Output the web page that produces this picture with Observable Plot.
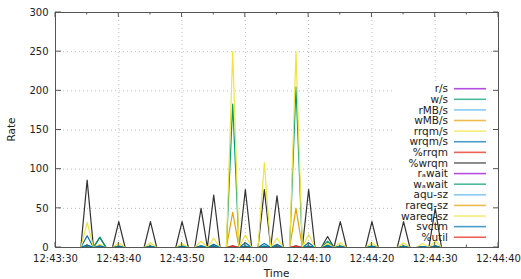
<!DOCTYPE html>
<html>
<head>
<meta charset="utf-8">
<script src="https://cdn.jsdelivr.net/npm/d3@7"></script>
<script src="https://cdn.jsdelivr.net/npm/@observablehq/plot@0.6"></script>
<style>
  html, body { margin: 0; padding: 0; background: #fff; }
  svg { display: block; }
</style>
</head>
<body>
<div id="chart"></div>
<script>
// ---- data (seconds after 12:43:30) ----
const seconds = [4,5,6,7,8,9,10,11,12,13,14,15,16,17,18,19,20,21,22,23,24,25,26,27,28,29,30,31,32,33,34,35,36,37,38,39,40,41,42,43,44,45,46,47,48,49,50,51,52,53,54,55,56,57,58,59,60,61];

const xTickSeconds = [0, 10, 20, 30, 40, 50, 60, 70];
const xTickLabels = ["12:43:30", "12:43:40", "12:43:50", "12:44:00", "12:44:10", "12:44:20", "12:44:30", "12:44:40"];
const xMinorSeconds = [5, 15, 25, 35, 45, 55, 65];
const xGridSeconds = [10, 20, 30, 40, 50, 60];
const yTicks = [0, 50, 100, 150, 200, 250, 300];
const yGrid = [50, 100, 150, 200, 250];

const seriesNames = ["r/s", "w/s", "rMB/s", "wMB/s", "rrqm/s", "wrqm/s", "%rrqm", "%wrqm",
  "rₐwait", "wₐwait", "aqu-sz", "rareq-sz", "wareq-sz", "svctm", "%util"];
const seriesColors = ["#9400d3", "#009e73", "#56b4e9", "#e69f00", "#f0e442", "#0072b2", "#e51e10", "#333333",
  "#9400d3", "#009e73", "#56b4e9", "#e69f00", "#f0e442", "#0072b2", "#e51e10"];

// non-zero readings [second, value]; every other second reads 0
const rS = [];
const wS = [[5,3],[7,2],[10,2],[15,2],[20,2],[23,2],[25,2],[28,183],[30,2],[33,2],[35,2],[38,205],[40,2],[43,2],[45,2],[50,2],[55,2],[58,1],[60,2]];
const rMBs = [];
const wMBs = [[28,45],[38,50]];
const rrqmS = [];
const wrqmS = [[5,15],[10,1],[15,1],[20,1],[23,2],[25,4],[30,6],[33,5],[35,4],[40,6],[43,3],[45,1],[50,1],[55,1],[58,1],[60,2]];
const pctRrqm = [];
const pctWrqm = [[5,86],[7,13],[10,33],[15,33],[20,33],[23,50],[25,67],[30,74],[33,74],[35,66],[40,74],[43,14],[45,33],[50,33],[55,33],[60,50]];
const rAwait = [];
const wAwait = [[5,1],[7,13],[10,1],[15,1],[20,1],[23,1],[25,1],[28,1],[30,1],[33,1],[35,1],[38,1],[40,1],[43,8],[45,1],[50,1],[55,1],[60,1]];
const aquSz = [[28,2],[38,2]];
const rareqSz = [];
const wareqSz = [[5,32],[7,4],[10,6],[15,6],[20,5],[23,8],[25,12],[28,250],[30,16],[33,108],[35,12],[38,250],[40,17],[43,5],[45,6],[50,6],[55,6],[58,5],[60,8]];
const svctm = [[5,3],[7,2],[10,1],[15,1],[20,1],[23,1],[25,1],[30,1],[33,1],[35,1],[40,1],[43,2],[45,1],[50,1],[55,1],[58,1],[60,1]];
const pctUtil = [[28,2],[38,2]];

const seriesReadings = [rS, wS, rMBs, wMBs, rrqmS, wrqmS, pctRrqm, pctWrqm, rAwait, wAwait, aquSz, rareqSz, wareqSz, svctm, pctUtil];

// ---- table ----
const rows = [];
seriesNames.forEach((name, k) => {
  const m = new Map(seriesReadings[k]);
  seconds.forEach(s => rows.push({t: s, series: name, value: m.has(s) ? m.get(s) : 0}));
});

const FONT = "DejaVu Sans";
const plot = Plot.plot({
  width: 521,
  height: 279,
  marginLeft: 55,
  marginRight: 23,
  marginTop: 12,
  marginBottom: 32,
  style: {fontFamily: FONT, fontSize: "10px", color: "#222", background: "#fff", overflow: "visible"},
  x: {domain: [0, 70], ticks: xTickSeconds, tickFormat: d => xTickLabels[xTickSeconds.indexOf(d)], tickSize: 0, tickPadding: 7, label: null},
  y: {domain: [0, 300], ticks: yTicks, tickSize: 0, tickPadding: 7, label: null},
  color: {domain: seriesNames, range: seriesColors},
  marks: [
    Plot.ruleX(xGridSeconds, {x: d => d, stroke: "#bdbdbd", strokeDasharray: "1,3"}),
    Plot.ruleY(yGrid, {y: d => d, stroke: "#bdbdbd", strokeDasharray: "1,3"}),
    Plot.line(rows, {x: "t", y: "value", z: "series", stroke: "series", strokeWidth: 1.2}),
    Plot.frame({stroke: "#555", strokeWidth: 1})
  ]
});

document.getElementById("chart").appendChild(plot);

(function () {
  const svg = d3.select(plot);
  const xs = plot.scale("x"), ys = plot.scale("y");
  const X = v => xs.apply(v), Y = v => ys.apply(v);
  const pLeft = X(0), pRight = X(70), pTop = Y(300), pBottom = Y(0);

  // opaque key area hides the grid behind it
  const lineGroup = plot.querySelector('g[aria-label="line"]');
  const keyBg = document.createElementNS("http://www.w3.org/2000/svg", "rect");
  keyBg.setAttribute("x", 395); keyBg.setAttribute("y", 83);
  keyBg.setAttribute("width", pRight - 395); keyBg.setAttribute("height", pBottom - 83);
  keyBg.setAttribute("fill", "#fff");
  if (lineGroup) plot.insertBefore(keyBg, lineGroup);

  // inward ticks on all four sides
  const tk = svg.append("g").attr("stroke", "#555").attr("stroke-width", 1);
  xTickSeconds.forEach(v => {
    tk.append("line").attr("x1", X(v)).attr("x2", X(v)).attr("y1", pBottom).attr("y2", pBottom - 5);
    tk.append("line").attr("x1", X(v)).attr("x2", X(v)).attr("y1", pTop).attr("y2", pTop + 5);
  });
  xMinorSeconds.forEach(v => {
    tk.append("line").attr("x1", X(v)).attr("x2", X(v)).attr("y1", pBottom).attr("y2", pBottom - 2.5);
    tk.append("line").attr("x1", X(v)).attr("x2", X(v)).attr("y1", pTop).attr("y2", pTop + 2.5);
  });
  yTicks.forEach(v => {
    tk.append("line").attr("x1", pLeft).attr("x2", pLeft + 6).attr("y1", Y(v)).attr("y2", Y(v));
    tk.append("line").attr("x1", pRight).attr("x2", pRight - 5).attr("y1", Y(v)).attr("y2", Y(v));
  });

  // axis titles
  svg.append("text").attr("x", (pLeft + pRight) / 2).attr("y", 277)
    .attr("text-anchor", "middle").attr("font-family", FONT).attr("font-size", 10.5).attr("fill", "#222").text("Time");
  svg.append("text").attr("transform", `translate(11,${(pTop + pBottom) / 2}) rotate(-90)`)
    .attr("text-anchor", "middle").attr("dominant-baseline", "central")
    .attr("font-family", FONT).attr("font-size", 10.5).attr("fill", "#222").text("Rate");

  // key
  const key = svg.append("g");
  seriesNames.forEach((name, i) => {
    const yy = 88.7 + i * 10.61;
    key.append("text").attr("x", 448).attr("y", yy).attr("dy", "0.35em")
      .attr("text-anchor", "end").attr("font-family", FONT).attr("font-size", 10.5).attr("fill", "#222").text(name);
    key.append("line").attr("x1", 454).attr("x2", 486).attr("y1", yy).attr("y2", yy)
      .attr("stroke", seriesColors[i]).attr("stroke-width", 1.6).attr("stroke-opacity", 0.7);
  });
})();
</script>
</body>
</html>
